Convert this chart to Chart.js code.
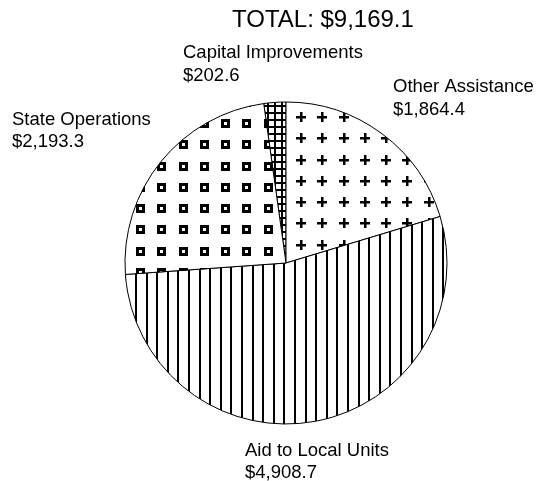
<!DOCTYPE html>
<html>
<head>
<meta charset="utf-8">
<script src="https://cdn.jsdelivr.net/npm/chart.js@4/dist/chart.umd.min.js"></script>
<style>
  html, body { margin: 0; padding: 0; background: #fff; }
  #wrap { width: 536px; height: 481px; }
</style>
</head>
<body>
<div id="wrap"><canvas id="c" width="536" height="481"></canvas></div>
<script>
// ---- data ----
const categories = ["Capital Improvements", "Other Assistance", "Aid to Local Units", "State Operations"];
const values = [202.6, 1864.4, 4908.7, 2193.3];
const totalValue = 9169.1;
const titlePrefix = "TOTAL: ";

// ---- helpers ----
function money(v) {
  return "$" + v.toLocaleString("en-US", { minimumFractionDigits: 1, maximumFractionDigits: 1 });
}
function makeTile(w, h, draw) {
  const c = document.createElement("canvas");
  c.width = w; c.height = h;
  const g = c.getContext("2d");
  g.fillStyle = "#fff"; g.fillRect(0, 0, w, h);
  g.fillStyle = "#000";
  draw(g);
  return c;
}
function pattern(ctx, tile, tx, ty) {
  const p = ctx.createPattern(tile, "repeat");
  p.setTransform(new DOMMatrix([1, 0, 0, 1, tx, ty]));
  return p;
}

const canvas = document.getElementById("c");
const ctx = canvas.getContext("2d");

// Capital Improvements: dense grid
const gridTile = makeTile(7, 7, g => { g.fillRect(0, 0, 2, 7); g.fillRect(0, 0, 7, 2); });
// Other Assistance: plus signs
const plusTile = makeTile(85, 85, g => {
  for (let i = 0; i < 4; i++) for (let j = 0; j < 4; j++) {
    const x = Math.round(i * 21.25), y = Math.round(j * 21.25);
    g.fillRect(x, y + 4, 10, 2.5); g.fillRect(x + 4, y, 2.5, 10);
  }
});
// Aid to Local Units: vertical lines
const vTile = makeTile(53, 10, g => {
  for (let i = 0; i < 5; i++) g.fillRect(Math.round(i * 10.6), 0, 2, 10);
});
// State Operations: hollow squares
const sqTile = makeTile(85, 85, g => {
  for (let i = 0; i < 4; i++) for (let j = 0; j < 4; j++) {
    const x = Math.round(i * 21.25), y = Math.round(j * 21.25);
    g.fillRect(x, y, 9, 9);
    g.fillStyle = "#fff"; g.fillRect(x + 3, y + 3, 3, 3); g.fillStyle = "#000";
  }
});

const fills = [
  pattern(ctx, gridTile, 1, 0),
  pattern(ctx, plusTile, 296, 112),
  pattern(ctx, vTile, 294, 0),
  pattern(ctx, sqTile, 136, 119)
];

const total = values.reduce((a, b) => a + b, 0);
const rotationDeg = -values[0] / total * 360;

// label layout (left x, first baseline, second baseline)
const labelPos = [
  [183, 58, 81],
  [393, 92, 115],
  [245, 456, 478],
  [12, 125, 147]
];

const textPlugin = {
  id: "texts",
  afterDraw(chart) {
    const c = chart.ctx;
    c.save();
    c.fillStyle = "#000";
    c.textBaseline = "alphabetic";
    c.textAlign = "left";
    c.font = '24px "Liberation Sans", Arial, sans-serif';
    c.fillText(titlePrefix + money(totalValue), 232, 27);
    c.font = '18.5px "Liberation Sans", Arial, sans-serif';
    categories.forEach((name, i) => {
      const [x, y1, y2] = labelPos[i];
      c.fillText(name, x, y1);
      c.fillText(money(values[i]), x, y2);
    });
    c.restore();
  }
};

new Chart(canvas, {
  type: "pie",
  data: {
    labels: categories,
    datasets: [{
      data: values,
      backgroundColor: fills,
      hoverBackgroundColor: fills,
      borderColor: "#000",
      hoverBorderColor: "#000",
      borderWidth: 1,
      hoverOffset: 0,
      offset: 0,
      radius: 161
    }]
  },
  options: {
    responsive: false,
    animation: false,
    events: [],
    rotation: rotationDeg,
    layout: { padding: { left: 125, right: 89, top: 102, bottom: 57 } },
    plugins: {
      legend: { display: false },
      tooltip: { enabled: false },
      title: { display: false }
    }
  },
  plugins: [textPlugin]
});
</script>
</body>
</html>
